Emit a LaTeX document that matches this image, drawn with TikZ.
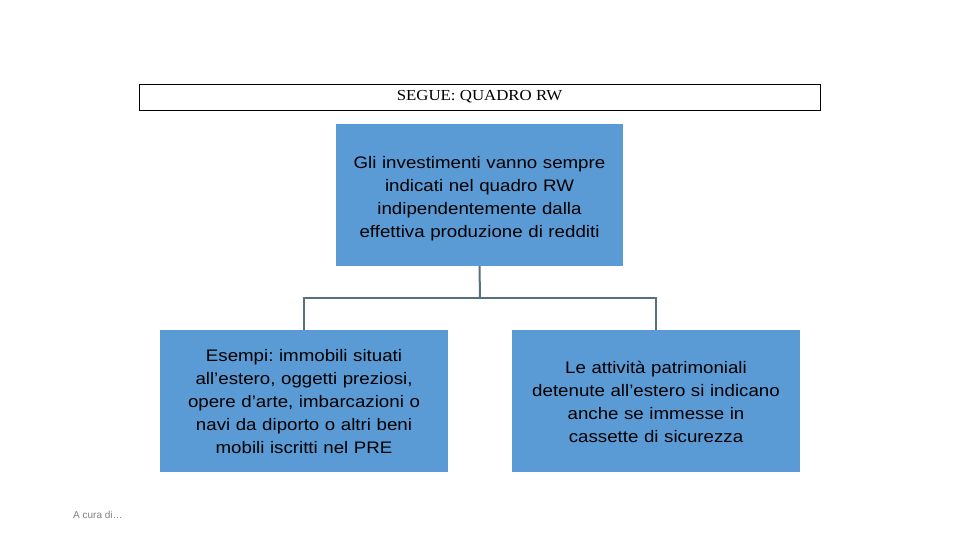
\documentclass[tikz,border=0pt]{standalone}
\usepackage{fontspec}
\setmainfont[FakeStretch=1.12]{Liberation Sans}
\newfontfamily\plainsans{Liberation Sans}
\newfontfamily\timesfont[FakeStretch=1.1]{Liberation Serif}
\frenchspacing
\definecolor{boxblue}{HTML}{5B9BD5}
\definecolor{linkgray}{HTML}{56707F}
\begin{document}
\begin{tikzpicture}[x=1pt,y=-1pt,
  bluebox/.style={fill=boxblue,draw=none,minimum width=288pt,minimum height=142pt,inner sep=0pt},
  boxtext/.style={inner sep=0pt,align=center,text width=284pt,font=\fontsize{16.7}{23}\selectfont,execute at begin node={\setlength{\parindent}{0pt}}},
  link/.style={draw=linkgray,line width=2pt}]
\useasboundingbox (0,0) rectangle (960,540);
\node[draw=black,line width=0.8pt,fill=white,minimum width=681pt,minimum height=26pt,inner sep=0pt,font=\timesfont\fontsize{15.3}{17}\selectfont] (title) at (479.5,97) {SEGUE: QUADRO RW};
\node[bluebox,minimum width=287pt] (top) at (479.5,195) {};
\node[boxtext] (toptext) at ([yshift=-3.5pt]top.center) {Gli investimenti vanno sempre\\indicati nel quadro RW\\indipendentemente dalla\\effettiva produzione di redditi};
\node[bluebox] (left) at (304,401) {};
\node[boxtext] (lefttext) at ([yshift=-1pt]left.center) {Esempi: immobili situati\\all’estero, oggetti preziosi,\\opere d’arte, imbarcazioni o\\navi da diporto o altri beni\\mobili iscritti nel PRE};
\node[bluebox] (right) at (656,401) {};
\node[boxtext] (righttext) at ([yshift=-1pt]right.center) {Le attività patrimoniali\\detenute all’estero si indicano\\anche se immesse in\\cassette di sicurezza};
\coordinate (mid) at (480,298);
\draw[link] (top.south) -- (mid);
\draw[link] (left.north) |- (mid) -| (right.north);
\node[anchor=west,text=gray,font=\plainsans\fontsize{10}{11}\selectfont,inner sep=0pt] (cura) at (73,515) {A cura di…};
\end{tikzpicture}
\end{document}
